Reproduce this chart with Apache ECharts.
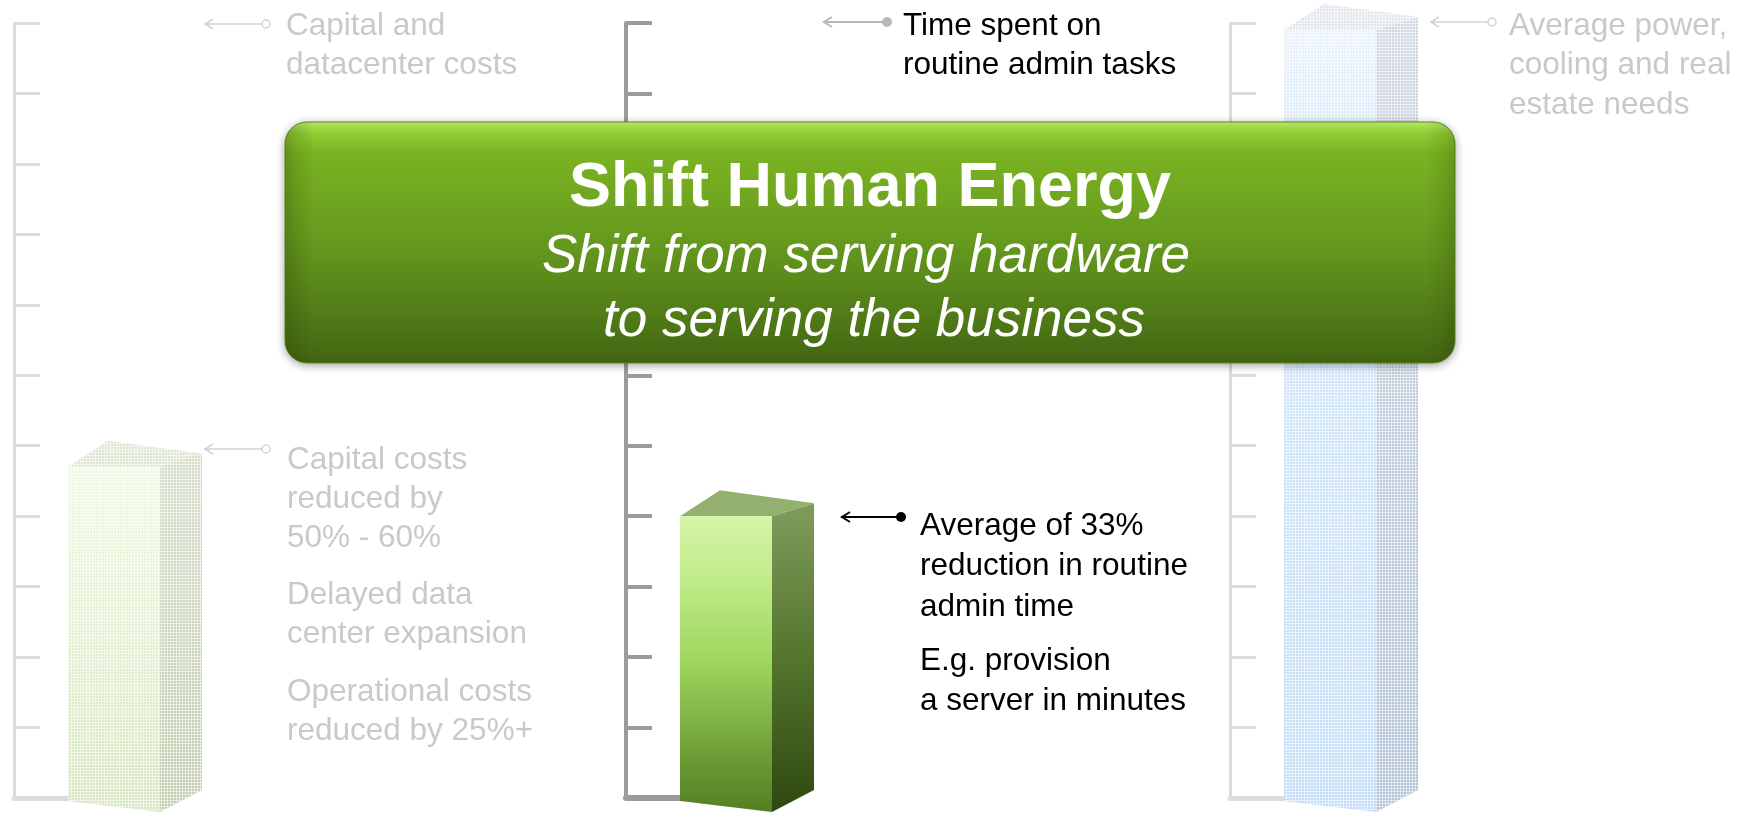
<!DOCTYPE html>
<html>
<head>
<meta charset="utf-8">
<title>Shift Human Energy</title>
<script src="https://cdn.jsdelivr.net/npm/echarts@6/dist/echarts.min.js"></script>
<style>
  html, body { margin: 0; padding: 0; background: #fff; }
  #chart { width: 1747px; height: 813px; }
</style>
</head>
<body>
<div id="chart"></div>
<script>
// one bar per panel, shared 0..11 scale (ticks only, no labels)
var category = ['now'];
var capitalValues = [4.7];
var adminValues = [4];
var powerValues = [10.9];
var axisMin = 0;
var axisMax = 11;
var tickStep = 1;

// texts
var titleText = 'Shift Human Energy';
var subtitleLines = ['Shift from serving hardware', 'to serving the business'];
var capitalTop = ['Capital and', 'datacenter costs'];
var capitalNotes = [
  ['Capital costs', 'reduced by', '50% - 60%'],
  ['Delayed data', 'center expansion'],
  ['Operational costs', 'reduced by 25%+']
];
var adminTop = ['Time spent on', 'routine admin tasks'];
var adminNotes = [
  ['Average of 33%', 'reduction in routine', 'admin time'],
  ['E.g. provision', 'a server in minutes']
];
var powerTop = ['Average power,', 'cooling and real', 'estate needs'];

var FONT = '"Liberation Sans", Arial, sans-serif';
var chart = echarts.init(document.getElementById('chart'));

function grad(stops) {
  return new echarts.graphic.LinearGradient(0, 0, 0, 1, stops.map(function (s) {
    return { offset: s[0], color: s[1] };
  }));
}

// small white grid, laid over the greyed-out bars to get the dotted look
var dots = document.createElement('canvas');
dots.width = 3; dots.height = 3;
var dctx = dots.getContext('2d');
dctx.fillStyle = 'rgba(255,255,255,0.55)';
dctx.fillRect(0, 2, 3, 1);
dctx.fillRect(2, 0, 1, 3);
var dotPattern = { image: dots, repeat: 'repeat' };

// 3d-looking box drawn from the axis scale
function boxRenderer(c) {
  return function (params, api) {
    var top = api.coord([api.value(0), api.value(1)]);
    var base = api.coord([api.value(0), 0]);
    var band = api.size([1, 0])[0];
    var x0 = top[0] - band / 2 + 54;
    var x1 = x0 + 92;
    var dx = 42;
    var yt = top[1], yb = base[1];
    var side = [[x1, yt], [x1 + dx, yt - 13], [x1 + dx, yb - 8], [x1, yb + 14]];
    var lid = [[x0, yt], [x0 + 40, yt - 26], [x1 + dx, yt - 13], [x1, yt]];
    var front = [[x0, yt], [x1, yt], [x1, yb + 14], [x0, yb + 3]];
    var kids = [
      { type: 'polygon', shape: { points: side }, style: { fill: c.side } },
      { type: 'polygon', shape: { points: lid }, style: { fill: c.top } },
      { type: 'polygon', shape: { points: front }, style: { fill: c.front } }
    ];
    if (c.dotted) {
      [side, lid, front].forEach(function (p) {
        kids.push({ type: 'polygon', shape: { points: p }, style: { fill: dotPattern } });
      });
    }
    return { type: 'group', children: kids };
  };
}

var fadedLine = { color: '#dcdcdc', width: 3 };
var solidLine = { color: '#9c9c9c', width: 4 };

function axesFor(idx, line, baseWidth) {
  return {
    x: {
      type: 'category', gridIndex: idx, data: category,
      axisLine: { show: true, lineStyle: { color: line.color, width: baseWidth } },
      axisTick: { show: false }, axisLabel: { show: false }
    },
    y: {
      type: 'value', gridIndex: idx, min: axisMin, max: axisMax, interval: tickStep,
      axisLine: { show: true, lineStyle: line },
      axisTick: { show: true, inside: true, length: 26, lineStyle: line },
      axisLabel: { show: false }, splitLine: { show: false }
    }
  };
}

var a0 = axesFor(0, fadedLine, 5);
var a1 = axesFor(1, solidLine, 6);
var a2 = axesFor(2, fadedLine, 5);

var gridTop = 23, gridBottom = 15, gridW = 146;

// annotation helpers
function textBlock(x, baseline, lines, size, lh, color) {
  return {
    type: 'text', x: x, y: baseline - 0.35 * size - lh / 2, z: 100,
    style: {
      text: lines.join('\n'), fill: color, font: size + 'px ' + FONT,
      lineHeight: lh, verticalAlign: 'top', align: 'left'
    }
  };
}

function pointer(x1, x2, y, color, w, r, hollow) {
  return {
    type: 'group', z: 100,
    children: [
      { type: 'line', shape: { x1: x1, y1: y, x2: x2, y2: y }, style: { stroke: color, lineWidth: w } },
      { type: 'polyline', shape: { points: [[x1 + 9, y - 5], [x1 + 1, y], [x1 + 9, y + 5]] },
        style: { stroke: color, lineWidth: w, fill: null } },
      { type: 'circle', shape: { cx: x2, cy: y, r: r },
        style: hollow ? { stroke: color, lineWidth: 1.5, fill: '#fff' } : { fill: color } }
    ]
  };
}

var faded = '#c9c9c9';
var fs = 31.5;
var graphics = [];

graphics.push(pointer(204, 266, 24, '#d2d2d2', 1.5, 4, true));
graphics.push(textBlock(286, 37, capitalTop, fs, 39, faded));
graphics.push(pointer(204, 266, 449, '#d2d2d2', 1.5, 4, true));
graphics.push(textBlock(287, 471, capitalNotes[0], fs, 39, faded));
graphics.push(textBlock(287, 606, capitalNotes[1], fs, 39, faded));
graphics.push(textBlock(287, 703, capitalNotes[2], fs, 39, faded));

graphics.push(pointer(823, 887, 22, '#b8b8b8', 2, 5, false));
graphics.push(textBlock(903, 37, adminTop, fs, 39, '#000'));
graphics.push(pointer(841, 901, 517, '#000', 2, 5, false));
graphics.push(textBlock(920, 537, adminNotes[0], fs, 40.5, '#000'));
graphics.push(textBlock(920, 672, adminNotes[1], fs, 40.5, '#000'));

graphics.push(pointer(1430, 1492, 22, '#d2d2d2', 1.5, 4, true));
graphics.push(textBlock(1509, 37, powerTop, fs, 39.5, faded));

// banner
var bx = 285, by = 122, bw = 1170, bh = 241;
graphics.push({
  type: 'rect', z: 90,
  shape: { x: bx, y: by, width: bw, height: bh, r: 22 },
  style: {
    fill: grad([[0, '#bdf06c'], [0.05, '#90cc32'], [0.13, '#7ab322'], [0.5, '#65991e'],
      [0.85, '#4d7616'], [1, '#426411']]),
    stroke: '#5d8a1a', lineWidth: 1,
    shadowBlur: 8, shadowColor: 'rgba(0,0,0,0.35)', shadowOffsetY: 2
  }
});
graphics.push({
  type: 'rect', z: 91, silent: true,
  shape: { x: bx, y: by, width: bw, height: bh, r: 22 },
  style: {
    fill: new echarts.graphic.LinearGradient(0, 0, 1, 0, [
      { offset: 0, color: 'rgba(40,60,0,0.25)' }, { offset: 0.025, color: 'rgba(40,60,0,0)' },
      { offset: 0.975, color: 'rgba(40,60,0,0)' }, { offset: 1, color: 'rgba(40,60,0,0.2)' }])
  }
});
graphics.push({
  type: 'text', z: 100, x: 870, y: 211 - 0.35 * 63,
  style: { text: titleText, fill: '#fff', font: 'bold 63px ' + FONT, align: 'center', verticalAlign: 'middle' }
});
graphics.push({
  type: 'text', z: 100, x: 866, y: 276 - 0.35 * 53,
  style: { text: subtitleLines[0], fill: '#fff', font: 'italic 53px ' + FONT, align: 'center', verticalAlign: 'middle' }
});
graphics.push({
  type: 'text', z: 100, x: 874, y: 340 - 0.35 * 53,
  style: { text: subtitleLines[1], fill: '#fff', font: 'italic 53px ' + FONT, align: 'center', verticalAlign: 'middle' }
});

var option = {
  backgroundColor: '#fff',
  animation: false,
  grid: [
    { left: 14, top: gridTop, bottom: gridBottom, width: gridW },
    { left: 626, top: gridTop, bottom: gridBottom, width: gridW },
    { left: 1230, top: gridTop, bottom: gridBottom, width: gridW }
  ],
  xAxis: [a0.x, a1.x, a2.x],
  yAxis: [a0.y, a1.y, a2.y],
  series: [
    {
      type: 'custom', name: 'Capital', xAxisIndex: 0, yAxisIndex: 0, z: 5,
      renderItem: boxRenderer({
        front: grad([[0, '#f0f9e2'], [0.5, '#e3f0d0'], [1, '#d6e6c0']]),
        side: grad([[0, '#d6ddca'], [1, '#c2ceb0']]),
        top: '#dfe6d2',
        dotted: true
      }),
      data: capitalValues.map(function (v, i) { return [i, v]; })
    },
    {
      type: 'custom', name: 'Admin', xAxisIndex: 1, yAxisIndex: 1, z: 5,
      renderItem: boxRenderer({
        front: grad([[0, '#d6f5a8'], [0.2, '#c2ec8c'], [0.5, '#9dd55c'], [0.8, '#6e9f36'], [1, '#547f24']]),
        side: grad([[0, '#7f9c5c'], [0.5, '#55752e'], [1, '#2e4810']]),
        top: '#93b06e'
      }),
      data: adminValues.map(function (v, i) { return [i, v]; })
    },
    {
      type: 'custom', name: 'Power', xAxisIndex: 2, yAxisIndex: 2, z: 5,
      renderItem: boxRenderer({
        front: grad([[0, '#eaf3fc'], [0.15, '#d6e9fa'], [1, '#c2ddf7']]),
        side: grad([[0, '#d0d8e2'], [1, '#b2c3d8']]),
        top: '#e2e6ec',
        dotted: true
      }),
      data: powerValues.map(function (v, i) { return [i, v]; })
    }
  ],
  graphic: graphics
};

chart.setOption(option);
</script>
</body>
</html>
